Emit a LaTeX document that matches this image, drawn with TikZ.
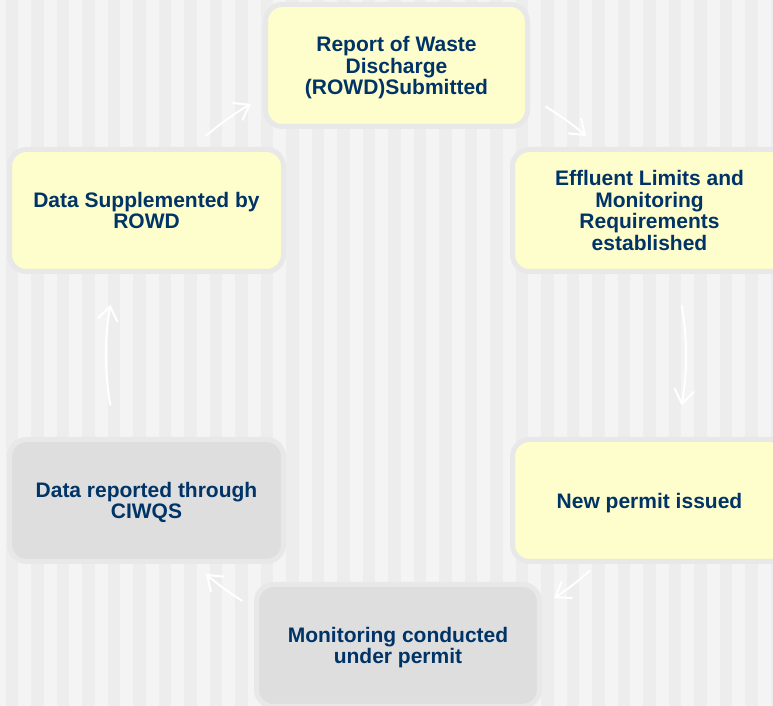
\documentclass[tikz,border=0pt]{standalone}
\usepackage{fontspec}
\setmainfont{Liberation Sans}
\usetikzlibrary{arrows.meta,calc}
\definecolor{bgdark}{HTML}{EDEDED}
\definecolor{bglight}{HTML}{F4F4F4}
\definecolor{boxyellow}{HTML}{FEFDCC}
\definecolor{boxgray}{HTML}{DEDEDE}
\definecolor{boxborder}{HTML}{E8E8E8}
\definecolor{textnavy}{HTML}{003366}
\newcommand\firstln{\rule{0pt}{19.5pt}}
\newcommand\lastln{\rule[-4.45pt]{0pt}{4.45pt}}
\tikzset{
  stage/.style={draw=boxborder, line width=5pt, rounded corners=17pt,
    minimum width=274pt, minimum height=122pt, inner sep=0pt,
    align=center, text=textnavy,
    font=\fontsize{21}{21.7}\selectfont\bfseries},
  ystage/.style={stage, fill=boxyellow},
  gstage/.style={stage, fill=boxgray},
  cyclearrow/.style={draw=white, line width=2pt,
    -{Straight Barb[length=14pt,width=20pt,line width=2pt]}}
}
\begin{document}
\begin{tikzpicture}[x=1pt,y=1pt]
\useasboundingbox (0,0) rectangle (773,706);
\clip (0,0) rectangle (773,706);
\fill[bgdark] (0,0) rectangle (773,706);
\foreach \k in {0,...,31}{
  \fill[bglight] ({-7.2+25.5*\k},0) rectangle ({-7.2+25.5*\k+12.7},706);
}
\node[ystage, minimum width=262pt] (rep) at (396.5,640.5) {\firstln Report of Waste\\Discharge\\(ROWD)Submitted\lastln};
\node[ystage] (eff) at (649.5,495.5) {\firstln Effluent Limits and\\Monitoring\\Requirements\\established\lastln};
\node[ystage] (new) at (649.5,205.5) {\firstln New permit issued\lastln};
\node[gstage, minimum width=283pt] (mon) at (398,60.5) {\firstln Monitoring conducted\\under permit\lastln};
\node[gstage] (dat) at (146.5,205.5) {\firstln Data reported through\\CIWQS\lastln};
\node[ystage] (sup) at (146.5,495.5) {\firstln Data Supplemented by\\ROWD\lastln};
\coordinate (C) at (396,351);
\coordinate (s1) at ($(C)+(131:290pt)$);
\coordinate (s2) at ($(C)+(59:290pt)$);
\coordinate (s3) at ($(C)+(10:290pt)$);
\coordinate (s4) at ($(C)+(-48:290pt)$);
\coordinate (s5) at ($(C)+(238:290pt)$);
\coordinate (s6) at ($(C)+(190:290pt)$);
\draw[cyclearrow] (s1) arc[start angle=131, end angle=120, radius=290pt];
\draw[cyclearrow] (s2) arc[start angle=59, end angle=49, radius=290pt];
\draw[cyclearrow] (s3) arc[start angle=10, end angle=-10, radius=290pt];
\draw[cyclearrow] (s4) arc[start angle=-48, end angle=-57, radius=290pt];
\draw[cyclearrow] (s5) arc[start angle=238, end angle=229, radius=290pt];
\draw[cyclearrow] (s6) arc[start angle=190, end angle=170, radius=290pt];
\end{tikzpicture}
\end{document}
